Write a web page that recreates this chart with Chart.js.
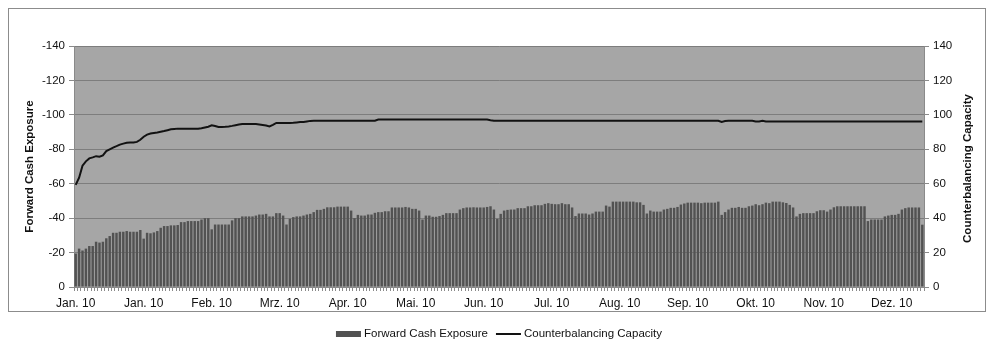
<!DOCTYPE html>
<html>
<head>
<meta charset="utf-8">
<title>Forward Cash Exposure / Counterbalancing Capacity</title>
<script src="https://cdn.jsdelivr.net/npm/chart.js@4.4.1/dist/chart.umd.min.js"></script>
<style>
  html, body { margin: 0; padding: 0; background: #ffffff; }
  #wrap { position: relative; width: 992px; height: 354px; }
</style>
</head>
<body>
<div id="wrap"><canvas id="c" width="992" height="354"></canvas></div>
<script>
// Month labels shown on every 20th business day
const tickLabels = ['Jan. 10', 'Jan. 10', 'Feb. 10', 'Mrz. 10', 'Apr. 10', 'Mai. 10', 'Jun. 10',
                    'Jul. 10', 'Aug. 10', 'Sep. 10', 'Okt. 10', 'Nov. 10', 'Dez. 10'];
const tickEvery = 20;

// Forward cash exposure per business day (left axis, negative values)
const exposure = [
  -19.4, -22.3, -21.2, -22.3, -23.8, -23.8, -26.3, -25.8, -26.3, -28.3,
  -29.6, -31.5, -31.5, -32.1, -32.1, -32.5, -32.1, -32.1, -32.1, -33.1,
  -28.1, -31.5, -31.2, -31.7, -32.5, -34.4, -35.4, -35.4, -35.8, -35.8,
  -36.0, -37.7, -37.7, -38.3, -38.3, -38.3, -38.3, -39.2, -40.0, -40.0,
  -33.5, -36.3, -36.3, -36.3, -36.3, -36.3, -38.7, -40.0, -40.0, -41.0,
  -41.0, -41.0, -41.0, -41.5, -42.1, -42.1, -42.5, -41.0, -41.0, -42.9,
  -42.9, -41.5, -36.3, -39.6, -40.6, -41.0, -41.0, -41.5, -42.1, -42.5,
  -43.5, -44.8, -44.8, -45.4, -46.3, -46.3, -46.3, -46.7, -46.7, -46.7,
  -46.7, -44.4, -40.0, -41.9, -41.5, -41.5, -42.1, -42.1, -43.1, -43.5,
  -43.5, -44.0, -44.0, -46.2, -46.2, -46.2, -46.2, -46.5, -46.2, -45.4,
  -45.4, -44.4, -39.2, -41.5, -41.5, -40.8, -40.8, -41.2, -41.9, -42.9,
  -42.9, -42.9, -42.9, -45.0, -45.8, -46.2, -46.2, -46.3, -46.2, -46.2,
  -46.2, -46.5, -46.9, -45.0, -39.6, -42.5, -44.4, -44.8, -45.0, -45.0,
  -45.8, -45.8, -45.8, -46.9, -46.9, -47.5, -47.5, -47.5, -48.3, -48.7,
  -48.3, -48.1, -48.1, -48.7, -48.1, -48.1, -46.2, -41.2, -42.7, -42.7,
  -42.7, -42.1, -42.7, -43.8, -43.8, -43.8, -47.3, -46.7, -49.6, -49.6,
  -49.6, -49.6, -49.6, -49.6, -49.6, -49.2, -49.2, -47.7, -42.7, -44.4,
  -43.8, -43.8, -43.8, -45.0, -45.4, -46.0, -46.0, -46.5, -47.9, -48.5,
  -49.0, -49.0, -49.0, -49.0, -48.7, -49.0, -49.0, -49.0, -49.0, -49.6,
  -41.9, -43.5, -45.0, -46.0, -46.0, -46.5, -46.0, -46.0, -46.9, -47.3,
  -48.1, -47.5, -48.1, -49.0, -48.7, -49.6, -49.6, -49.6, -49.2, -48.8,
  -47.7, -46.2, -41.0, -42.5, -42.9, -42.9, -42.9, -42.9, -44.0, -44.6,
  -44.6, -43.8, -45.0, -46.3, -46.9, -46.9, -46.9, -46.9, -46.9, -46.9,
  -46.9, -46.9, -46.9, -38.3, -39.2, -39.2, -39.2, -39.2, -41.0, -41.5,
  -41.9, -41.9, -42.5, -45.0, -45.8, -46.2, -46.2, -46.2, -46.2, -36.2
];

// Counterbalancing capacity per business day (right axis)
const capacity = [
  59.3, 63.5, 70.5, 73.0, 74.7, 75.3, 76.0, 75.7, 76.5, 79.0,
  80.0, 81.0, 81.8, 82.7, 83.3, 83.8, 84.0, 84.0, 84.3, 85.5,
  87.3, 88.5, 89.2, 89.5, 89.8, 90.2, 90.6, 91.1, 91.6, 91.8,
  92.0, 92.0, 92.0, 92.0, 92.0, 92.0, 92.0, 92.2, 92.7, 93.1,
  93.9, 93.5, 92.9, 93.0, 93.1, 93.3, 93.6, 94.0, 94.4, 94.7,
  94.7, 94.7, 94.7, 94.7, 94.4, 94.1, 93.8, 93.3, 94.2, 95.3,
  95.3, 95.3, 95.3, 95.3, 95.4, 95.6, 95.8, 95.9, 96.2, 96.5,
  96.6, 96.6, 96.6, 96.6, 96.6, 96.6, 96.6, 96.6, 96.6, 96.6,
  96.6, 96.6, 96.6, 96.6, 96.6, 96.6, 96.6, 96.6, 96.6, 97.3,
  97.3, 97.3, 97.3, 97.3, 97.3, 97.3, 97.3, 97.3, 97.3, 97.3,
  97.3, 97.3, 97.3, 97.3, 97.3, 97.3, 97.3, 97.3, 97.3, 97.3,
  97.3, 97.3, 97.3, 97.3, 97.3, 97.3, 97.3, 97.3, 97.3, 97.3,
  97.3, 97.3, 96.9, 96.6, 96.6, 96.6, 96.6, 96.6, 96.6, 96.6,
  96.6, 96.6, 96.6, 96.6, 96.6, 96.6, 96.6, 96.6, 96.6, 96.6,
  96.6, 96.6, 96.6, 96.6, 96.6, 96.6, 96.6, 96.6, 96.6, 96.6,
  96.6, 96.6, 96.6, 96.6, 96.6, 96.6, 96.6, 96.6, 96.6, 96.6,
  96.6, 96.6, 96.6, 96.6, 96.6, 96.6, 96.6, 96.6, 96.6, 96.6,
  96.6, 96.6, 96.6, 96.6, 96.6, 96.6, 96.6, 96.6, 96.6, 96.6,
  96.6, 96.6, 96.6, 96.6, 96.6, 96.6, 96.6, 96.6, 96.6, 96.6,
  95.9, 96.4, 96.6, 96.6, 96.6, 96.6, 96.6, 96.6, 96.6, 96.6,
  96.1, 96.1, 96.5, 96.1, 96.1, 96.1, 96.1, 96.1, 96.1, 96.1,
  96.1, 96.1, 96.1, 96.1, 96.1, 96.1, 96.1, 96.1, 96.1, 96.1,
  96.1, 96.1, 96.1, 96.1, 96.1, 96.1, 96.1, 96.1, 96.1, 96.1,
  96.1, 96.1, 96.1, 96.1, 96.1, 96.1, 96.1, 96.1, 96.1, 96.1,
  96.1, 96.1, 96.1, 96.1, 96.1, 96.1, 96.1, 96.1, 96.1, 96.1
];

const categories = exposure.map((_, i) => (i % tickEvery === 0 ? tickLabels[i / tickEvery] : ''));

const FONT = "'Liberation Sans', Arial, sans-serif";
const BAR_COLOR = '#525252';
const LINE_COLOR = '#121212';
const PLOT_BG = '#a6a6a6';

// Plot background, outer frame, rotated axis titles and the legend row
const decorations = {
  id: 'decorations',
  beforeDraw(chart) {
    const { ctx, chartArea: a } = chart;
    ctx.save();
    ctx.fillStyle = '#ffffff';
    ctx.fillRect(0, 0, chart.width, chart.height);
    ctx.fillStyle = PLOT_BG;
    ctx.fillRect(a.left, a.top, a.right - a.left, a.bottom - a.top);
    ctx.strokeStyle = '#8c8c8c';
    ctx.lineWidth = 1;
    ctx.strokeRect(8.5, 8.5, 977, 303);
    ctx.restore();
  },
  afterDraw(chart) {
    const { ctx, chartArea: a } = chart;
    const midY = (a.top + a.bottom) / 2;
    ctx.save();
    ctx.fillStyle = '#111';
    ctx.font = 'bold 11.5px ' + FONT;
    ctx.textAlign = 'center';
    ctx.textBaseline = 'middle';
    ctx.save();
    ctx.translate(30, midY);
    ctx.rotate(-Math.PI / 2);
    ctx.fillText(chart.options.scales.yL.title.text, 0, 0);
    ctx.restore();
    ctx.save();
    ctx.translate(968, midY + 2);
    ctx.rotate(-Math.PI / 2);
    ctx.fillText(chart.options.scales.yR.title.text, 0, 0);
    ctx.restore();

    // legend: bar series first, then the line series
    const ds = chart.data.datasets;
    const barSet = ds.find(d => d.type === 'bar');
    const lineSet = ds.find(d => d.type === 'line');
    ctx.font = '11.5px ' + FONT;
    ctx.textAlign = 'left';
    const sw = 25, gap = 3, between = 8;
    const w0 = ctx.measureText(barSet.label).width;
    const w1 = ctx.measureText(lineSet.label).width;
    const total = sw + gap + w0 + between + sw + gap + w1;
    let x = (a.left + a.right) / 2 - total / 2;
    const y = 334;
    ctx.fillStyle = barSet.backgroundColor;
    ctx.fillRect(x, y - 3, sw, 6);
    x += sw + gap;
    ctx.fillStyle = '#111';
    ctx.fillText(barSet.label, x, y);
    x += w0 + between;
    ctx.strokeStyle = lineSet.borderColor;
    ctx.lineWidth = 2;
    ctx.beginPath();
    ctx.moveTo(x, y);
    ctx.lineTo(x + sw, y);
    ctx.stroke();
    x += sw + gap;
    ctx.fillText(lineSet.label, x, y);
    ctx.restore();
  }
};

new Chart(document.getElementById('c'), {
  data: {
    labels: categories,
    datasets: [
      {
        type: 'line',
        label: 'Counterbalancing Capacity',
        data: capacity,
        yAxisID: 'yR',
        borderColor: LINE_COLOR,
        borderWidth: 2,
        pointRadius: 0,
        tension: 0,
        order: 0
      },
      {
        type: 'bar',
        label: 'Forward Cash Exposure',
        data: exposure,
        yAxisID: 'yL',
        backgroundColor: BAR_COLOR,
        categoryPercentage: 1,
        barPercentage: 0.72,
        order: 1
      }
    ]
  },
  options: {
    responsive: false,
    animation: false,
    layout: { padding: { top: 46, bottom: 37, left: 0, right: 0 } },
    plugins: { legend: { display: false }, tooltip: { enabled: false } },
    scales: {
      x: {
        type: 'category',
        offset: true,
        grid: { offset: true, drawOnChartArea: false, tickLength: 4, color: '#8a8a8a' },
        border: { color: '#8a8a8a' },
        ticks: {
          autoSkip: false, maxRotation: 0, minRotation: 0, padding: 5,
          color: '#111', font: { family: FONT, size: 12 }
        },
        afterFit(s) { s.height = 30; }
      },
      yL: {
        type: 'linear',
        position: 'left',
        reverse: true,
        min: -140,
        max: 0,
        title: { display: false, text: 'Forward Cash Exposure' },
        ticks: { stepSize: 20, padding: 4, color: '#111', font: { family: FONT, size: 11.5 } },
        grid: { color: '#7d7d7d', tickLength: 5, tickColor: '#8a8a8a' },
        border: { color: '#8a8a8a' },
        afterFit(s) { s.width = 74; }
      },
      yR: {
        type: 'linear',
        position: 'right',
        min: 0,
        max: 140,
        title: { display: false, text: 'Counterbalancing Capacity' },
        ticks: { stepSize: 20, padding: 4, color: '#111', font: { family: FONT, size: 11.5 } },
        grid: { drawOnChartArea: false, tickLength: 5, color: '#8a8a8a' },
        border: { color: '#8a8a8a' },
        afterFit(s) { s.width = 68; }
      }
    }
  },
  plugins: [decorations]
});
</script>
</body>
</html>
